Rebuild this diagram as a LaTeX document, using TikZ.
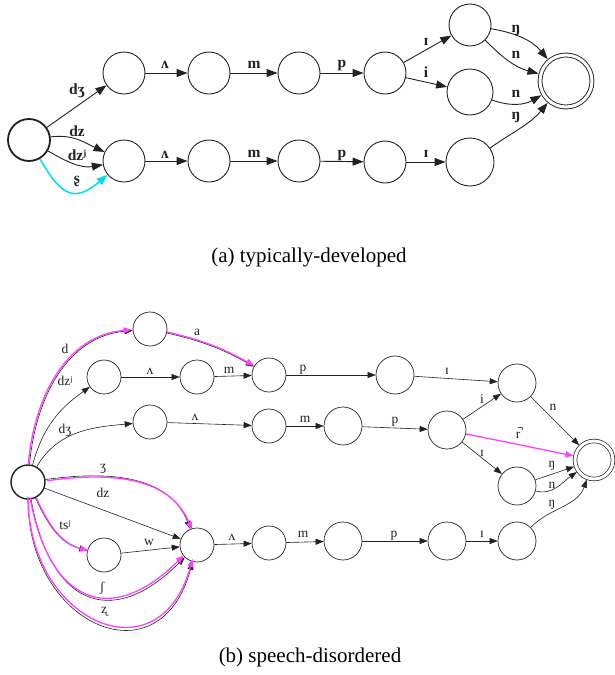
\documentclass[tikz,border=0pt]{standalone}
\usepackage{fontspec}
\setmainfont{Liberation Serif}
\usetikzlibrary{arrows.meta}
\definecolor{ink}{HTML}{222222}
\definecolor{mag}{HTML}{FF40FF}
\definecolor{cyn}{HTML}{00E0E8}
\begin{document}
\begin{tikzpicture}[x=1pt,y=1pt,
  sta/.style={circle, draw=ink, line width=0.9pt, minimum size=42pt, inner sep=0pt},
  stb/.style={circle, draw=ink, line width=0.7pt, minimum size=34pt, inner sep=0pt},
  stc/.style={stb, minimum size=38pt},
  fina/.style={circle, draw=ink, line width=0.9pt, double, double distance=3pt, minimum size=52pt, inner sep=0pt, outer sep=2.5pt},
  finb/.style={circle, draw=ink, line width=0.7pt, double, double distance=3pt, minimum size=38pt, inner sep=0pt, outer sep=2pt},
  ea/.style={draw=ink, line width=0.9pt, -{Triangle[length=11pt,width=8pt]}},
  eb/.style={draw=ink, line width=0.6pt, -{Triangle[length=8pt,width=6pt]}},
  mb/.style={draw=mag, line width=1.3pt, -{Triangle[length=8pt,width=6pt]}},
  ca/.style={draw=cyn, line width=1.5pt, -{Triangle[length=11pt,width=8pt]}},
  la/.style={font=\bfseries\fontsize{15.5}{15.5}\selectfont, text=ink, inner sep=0pt},
  lb/.style={font=\fontsize{13.5}{13.5}\selectfont, text=ink, inner sep=0pt},
  captext/.style={font=\fontsize{21}{25}\selectfont, inner sep=0pt}
]
\useasboundingbox (0,0) rectangle (615,-675);
% ---------- (a) ----------
\node[sta, line width=1.8pt] (S0) at (29,-140) {};
\node[sta] (A1) at (124,-73) {};
\node[sta] (A2) at (209,-73) {};
\node[sta] (A3) at (299,-73) {};
\node[sta] (A4) at (385,-73) {};
\node[sta] (A5) at (470,-25) {};
\node[sta, minimum size=46pt] (A6) at (470,-92) {};
\node[fina] (F1) at (566,-81) {};
\node[sta] (B1) at (124,-161) {};
\node[sta] (B2) at (209,-161) {};
\node[sta] (B3) at (299,-161) {};
\node[sta] (B4) at (385,-162) {};
\node[sta, minimum size=48pt] (B5) at (470,-162) {};

\draw[ea] (S0) -- (A1) node[la] at (77,-91) {dʒ};
\draw[ea] (S0) to[out=8,in=155] (B1) node[la] at (77,-131) {dz};
\draw[ea] (S0) to[out=-30,in=190] (B1) node[la] at (77,-155) {dzʲ};
\draw[ca] (S0) to[out=-60,in=-140,looseness=1.6] (B1) node[la] at (77,-181) {ʂ};
\draw[ea] (A1) -- (A2) node[la] at (165,-65) {ʌ};
\draw[ea] (A2) -- (A3) node[la] at (254,-65) {m};
\draw[ea] (A3) -- (A4) node[la] at (342,-65) {p};
\draw[ea] (A4) -- (A5) node[la] at (426,-42) {ɪ};
\draw[ea] (A4) -- (A6) node[la] at (426,-72) {i};
\draw[ea] (A5) to[out=-10,in=130] (F1) node[la] at (516,-30) {ŋ};
\draw[ea] (A5) to[out=-45,in=165] (F1) node[la] at (516,-55) {n};
\draw[ea] (A6) to[out=-20,in=-150] (F1) node[la] at (516,-94) {n};
\draw[ea] (B5) to[out=35,in=-130] (F1) node[la] at (516,-117) {ŋ};
\draw[ea] (B1) -- (B2) node[la] at (165,-155) {ʌ};
\draw[ea] (B2) -- (B3) node[la] at (254,-154) {m};
\draw[ea] (B3) -- (B4) node[la] at (342,-155) {p};
\draw[ea] (B4) -- (B5) node[la] at (426,-154) {ɪ};

\node[captext] (capA) at (309,-257) {(a) typically-developed};

% ---------- (b) ----------
\node[stb, line width=1.4pt] (S) at (28,-482) {};
\node[stb] (D1) at (150,-329) {};
\node[stb] (N1) at (104,-377) {};
\node[stb] (N2) at (197,-377) {};
\node[stb] (Pa) at (269,-375) {};
\node[stc] (Q1) at (395,-375) {};
\node[stc] (Q2) at (517,-383) {};
\node[stb] (M1) at (150,-422) {};
\node[stb] (M2) at (269,-426) {};
\node[stc] (M3) at (343,-426) {};
\node[stc] (M4) at (447,-430) {};
\node[stc] (R1) at (517,-486) {};
\node[finb] (F2) at (594,-460) {};
\node[stb] (W) at (104,-555) {};
\node[stb] (H) at (197,-545) {};
\node[stb] (H2) at (269,-543) {};
\node[stc] (T1) at (343,-541) {};
\node[stc] (T2) at (447,-541) {};
\node[stc] (T3) at (517,-541) {};

\draw[eb] (S) to[out=85,in=185] (D1) node[lb] at (65,-349) {d};
\draw[mb, transform canvas={xshift=-1.2pt,yshift=0.8pt}] (S) to[out=85,in=185] (D1);
\draw[eb] (D1) to[bend left=8] (Pa) node[lb] at (197,-332) {a};
\draw[mb, transform canvas={yshift=1pt}] (D1) to[bend left=8] (Pa);
\draw[eb] (S) to[out=75,in=215] (N1) node[lb] at (65,-381) {dzʲ};
\draw[eb] (N1) -- (N2) node[lb] at (150,-371) {ʌ};
\draw[eb] (N2) -- (Pa) node[lb] at (229,-370) {m};
\draw[eb] (Pa) -- (Q1) node[lb] at (303,-370) {p};
\draw[eb] (Q1) -- (Q2) node[lb] at (447,-371) {ɪ};
\draw[eb] (S) to[out=60,in=185] (M1) node[lb] at (65,-430) {dʒ};
\draw[eb] (M1) -- (M2) node[lb] at (195,-417) {ʌ};
\draw[eb] (M2) -- (M3) node[lb] at (305,-419) {m};
\draw[eb] (M3) -- (M4) node[lb] at (395,-422) {p};
\draw[eb] (M4) -- (Q2) node[lb] at (482,-399) {i};
\draw[mb] (M4) -- (F2) node[lb] at (518,-433) {r̚};
\draw[eb] (M4) -- (R1) node[lb] at (482,-453) {ɪ};
\draw[eb] (Q2) -- (F2) node[lb] at (553,-407) {n};
\draw[eb] (R1) -- (F2) node[lb] at (552,-466) {ŋ};
\draw[eb] (R1) to[out=-15,in=-145] (F2) node[lb] at (552,-485) {n};
\draw[eb] (T3) to[out=45,in=-110] (F2) node[lb] at (552,-505) {ŋ};

\draw[eb] (S) to[out=8,in=112] (H) node[lb] at (103,-469) {ʒ};
\draw[mb, transform canvas={xshift=1.5pt,yshift=-1.2pt}] (S) to[out=8,in=112] (H);
\draw[eb] (S) -- (H) node[lb] at (103,-493) {dz};
\draw[eb] (S) to[out=-65,in=165] (W) node[lb] at (65,-525) {tsʲ};
\draw[mb, transform canvas={xshift=0.8pt}] (S) to[out=-65,in=165] (W);
\draw[eb] (W) -- (H) node[lb] at (149,-542) {w};
\draw[eb] (S) to[out=-80,in=-135,looseness=1.64] (H) node[lb] at (102,-588) {ʃ};
\draw[mb, transform canvas={xshift=-1pt,yshift=2pt}] (S) to[out=-80,in=-135,looseness=1.64] (H);
\draw[eb] (S) to[out=-90,in=-105,looseness=1.83] (H) node[lb] at (104,-612) {ʐ};
\draw[mb, transform canvas={yshift=3pt}] (S) to[out=-90,in=-105,looseness=1.83] (H);
\draw[eb] (H) -- (H2) node[lb] at (232,-537) {ʌ};
\draw[eb] (H2) -- (T1) node[lb] at (303,-534) {m};
\draw[eb] (T1) -- (T2) node[lb] at (394,-536) {p};
\draw[eb] (T2) -- (T3) node[lb] at (482,-534) {ɪ};

\node[captext] (capB) at (310,-657) {(b) speech-disordered};
\end{tikzpicture}
\end{document}
